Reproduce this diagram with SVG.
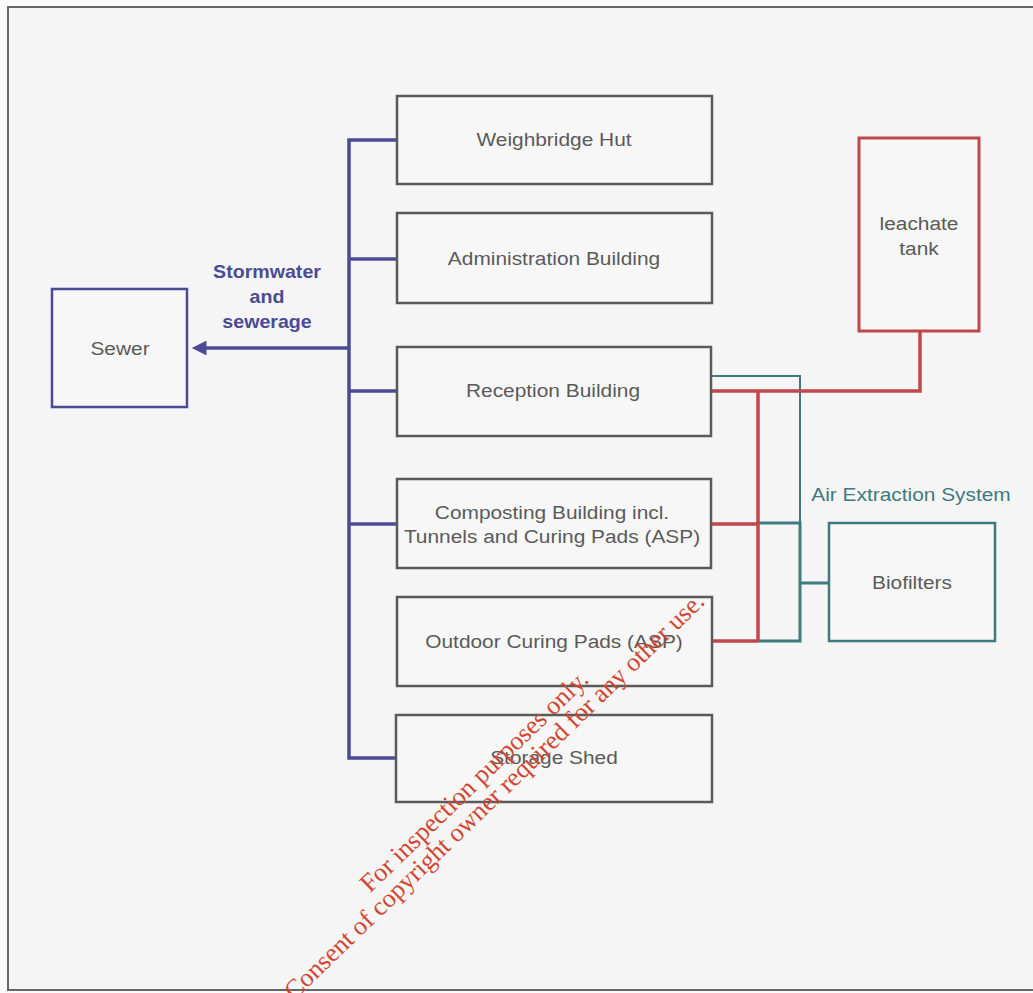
<svg xmlns="http://www.w3.org/2000/svg" width="1033" height="993" viewBox="0 0 1033 993">
<style>
.node{fill:#f7f7f7;stroke:#5a5a5a;stroke-width:2.5}
.lbl{font-family:"Liberation Sans",Arial,sans-serif;font-size:18px;fill:#5a5a5a;text-anchor:middle}
.blue{stroke:#4b4b94;stroke-width:3.5;fill:none}
.red{stroke:#c0474a;stroke-width:3.5;fill:none}
.teal{stroke:#3f7a7e;stroke-width:2;fill:none}
.teal2{stroke:#3f7a7e;stroke-width:3;fill:none}
.wm{font-family:"Liberation Serif","Times New Roman",serif;font-size:26px;fill:#d2452f;text-anchor:end}
</style>
<defs>
<marker id="arr" viewBox="0 0 10 10" refX="1" refY="5" markerWidth="5" markerHeight="4.2" orient="auto-start-reverse" markerUnits="strokeWidth">
<path d="M0,0 L10,5 L0,10 z" fill="#4b4b94"/>
</marker>
</defs>
<rect x="0" y="0" width="1033" height="993" fill="#fafafa"/>
<rect x="8" y="7" width="1040" height="983" fill="#f5f5f5" stroke="#666" stroke-width="2"/>

<g id="connectors">
<path class="blue" d="M397,140 H349 V758 H397"/>
<path class="blue" d="M349,259 H397"/>
<path class="blue" d="M349,391 H397"/>
<path class="blue" d="M349,524 H397"/>
<path class="blue" d="M349,348 H205" marker-end="url(#arr)"/>
<path class="teal" d="M711,376 H800 V523"/>
<path class="teal2" d="M758,523 H800 V641 H758"/>
<path class="teal2" d="M800,583 H829"/>
<path class="red" d="M711,391 H920 V331"/>
<path class="red" d="M758,391 V641"/>
<path class="red" d="M711,524 H758"/>
<path class="red" d="M712,641 H758"/>
</g>

<g id="stormwater-label">
<text transform="translate(267,278) scale(1.09,1)" font-family="Liberation Sans,Arial,sans-serif" font-size="18" font-weight="bold" fill="#4b4b94" text-anchor="middle"><tspan x="0" y="0">Stormwater</tspan><tspan x="0" y="25">and</tspan><tspan x="0" y="50">sewerage</tspan></text>
</g>
<g id="air-label">
<text transform="translate(911,501) scale(1.16,1)" font-family="Liberation Sans,Arial,sans-serif" font-size="18" fill="#3f7a7e" text-anchor="middle">Air Extraction System</text>
</g>

<g id="sewer">
<rect x="52" y="289" width="135" height="118" fill="#f7f7f7" stroke="#4b4b94" stroke-width="2.5"/>
<text class="lbl" transform="translate(120,355) scale(1.16,1)">Sewer</text>
</g>
<g id="weighbridge">
<rect class="node" x="397" y="96" width="315" height="88"/>
<text class="lbl" transform="translate(554,146) scale(1.16,1)">Weighbridge Hut</text>
</g>
<g id="administration">
<rect class="node" x="397" y="213" width="315" height="90"/>
<text class="lbl" transform="translate(554,265) scale(1.16,1)">Administration Building</text>
</g>
<g id="reception">
<rect class="node" x="397" y="347" width="314" height="89"/>
<text class="lbl" transform="translate(553,397) scale(1.16,1)">Reception Building</text>
</g>
<g id="composting">
<rect class="node" x="397" y="479" width="314" height="89"/>
<text class="lbl" transform="translate(552,519) scale(1.16,1)"><tspan x="0" y="0">Composting Building incl.</tspan><tspan x="0" y="24">Tunnels and Curing Pads (ASP)</tspan></text>
</g>
<g id="outdoor">
<rect class="node" x="397" y="597" width="315" height="89"/>
<text class="lbl" transform="translate(554,648) scale(1.16,1)">Outdoor Curing Pads (ASP)</text>
</g>
<g id="storage">
<rect class="node" x="396" y="715" width="316" height="87"/>
<text class="lbl" transform="translate(554,764) scale(1.16,1)">Storage Shed</text>
</g>
<g id="leachate">
<rect x="859" y="138" width="120" height="193" fill="#f7f7f7" stroke="#c0474a" stroke-width="3"/>
<text class="lbl" transform="translate(919,230) scale(1.16,1)"><tspan x="0" y="0">leachate</tspan><tspan x="0" y="25">tank</tspan></text>
</g>
<g id="biofilters">
<rect x="829" y="523" width="166" height="118" fill="#f7f7f7" stroke="#3f7a7e" stroke-width="2.5"/>
<text class="lbl" transform="translate(912,589) scale(1.16,1)">Biofilters</text>
</g>

<g id="watermark">
<text class="wm" transform="translate(590,681) rotate(-44)">For inspection purposes only.</text>
<text class="wm" transform="translate(706,603) rotate(-44)">Consent of copyright owner required for any other use.</text>
</g>
</svg>
